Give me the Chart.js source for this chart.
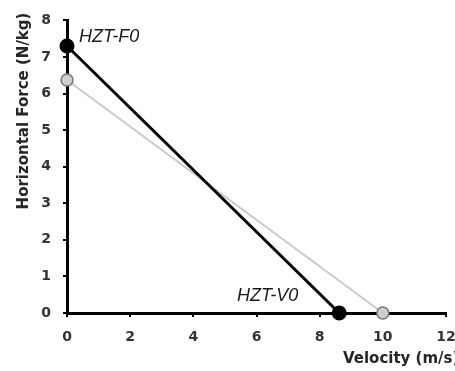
<!DOCTYPE html>
<html>
<head>
<meta charset="utf-8">
<script src="https://cdn.jsdelivr.net/npm/chart.js@4/dist/chart.umd.min.js"></script>
<style>
  html,body{margin:0;padding:0;background:#fff;}
  #graficoFuerza{display:block;}
</style>
</head>
<body>
<canvas id="graficoFuerza" width="455" height="371"></canvas>
<script>
// perfil fuerza-velocidad horizontal (dos condiciones)
const velNegra=[0,8.62];
const fuerzaNegra=[7.3,0];
const velGris=[0,10];
const fuerzaGris=[6.37,0];

const etiquetas=["HZT-F0","HZT-V0"];
const tituloX="Velocity (m/s)";
const tituloY="Horizontal Force (N/kg)";

const FUENTE="'DejaVu Sans', Verdana, sans-serif";
const FUENTE_ITAL="'Liberation Sans', Arial, sans-serif";

function puntos(xs,ys){
  return xs.map((x,i)=>({x:x,y:ys[i]}));
}

// textos de ejes y etiquetas HZT
const textos={
  id:"textos",
  afterDraw(chart){
    const ctx=chart.ctx;
    const sx=chart.scales.x, sy=chart.scales.y;
    ctx.save();
    ctx.fillStyle="#262626";
    ctx.font="bold 15px "+FUENTE;
    ctx.textAlign="left";
    ctx.textBaseline="middle";
    ctx.fillText(tituloX,343,359);

    ctx.save();
    ctx.translate(24,111);
    ctx.rotate(-Math.PI/2);
    ctx.textAlign="center";
    ctx.fillText(tituloY,0,0);
    ctx.restore();

    ctx.font="italic 18px "+FUENTE_ITAL;
    ctx.fillStyle="#1a1a1a";
    ctx.textAlign="left";
    ctx.fillText(etiquetas[0],sx.getPixelForValue(velNegra[0])+12,sy.getPixelForValue(fuerzaNegra[0])-9);
    ctx.textAlign="right";
    ctx.fillText(etiquetas[1],sx.getPixelForValue(velNegra[1])-41,sy.getPixelForValue(fuerzaNegra[1])-17);
    ctx.restore();
  }
};

new Chart("graficoFuerza",{
  type:"scatter",
  data:{
    datasets:[{
      data:puntos(velGris,fuerzaGris),
      showLine:true,
      borderColor:"#c9c9c9",
      borderWidth:2,
      pointRadius:6,
      pointBackgroundColor:"#cfcfcf",
      pointBorderColor:"#777",
      pointBorderWidth:1.5,
      clip:false,
      order:2
    },{
      data:puntos(velNegra,fuerzaNegra),
      showLine:true,
      borderColor:"#000",
      borderWidth:3,
      pointRadius:6,
      pointBackgroundColor:"#000",
      pointBorderColor:"#000",
      clip:false,
      order:1
    }]
  },
  options:{
    responsive:false,
    animation:false,
    layout:{padding:{top:13,right:0,left:0,bottom:0}},
    plugins:{legend:{display:false},tooltip:{enabled:false}},
    scales:{
      x:{
        type:"linear",
        min:0,max:12,
        border:{color:"#000",width:3},
        grid:{drawOnChartArea:false,color:"#000",tickLength:4,lineWidth:2},
        ticks:{stepSize:2,color:"#333",padding:12,font:{family:FUENTE,size:14,weight:"bold"}},
        afterFit(s){s.height=371-313;s.paddingRight=8;}
      },
      y:{
        min:0,max:8,
        border:{color:"#000",width:3},
        grid:{drawOnChartArea:false,color:"#000",tickLength:4,lineWidth:2},
        ticks:{stepSize:1,color:"#333",padding:12,font:{family:FUENTE,size:14,weight:"bold"}},
        afterFit(s){s.width=67;}
      }
    }
  },
  plugins:[textos]
});
</script>
</body>
</html>
